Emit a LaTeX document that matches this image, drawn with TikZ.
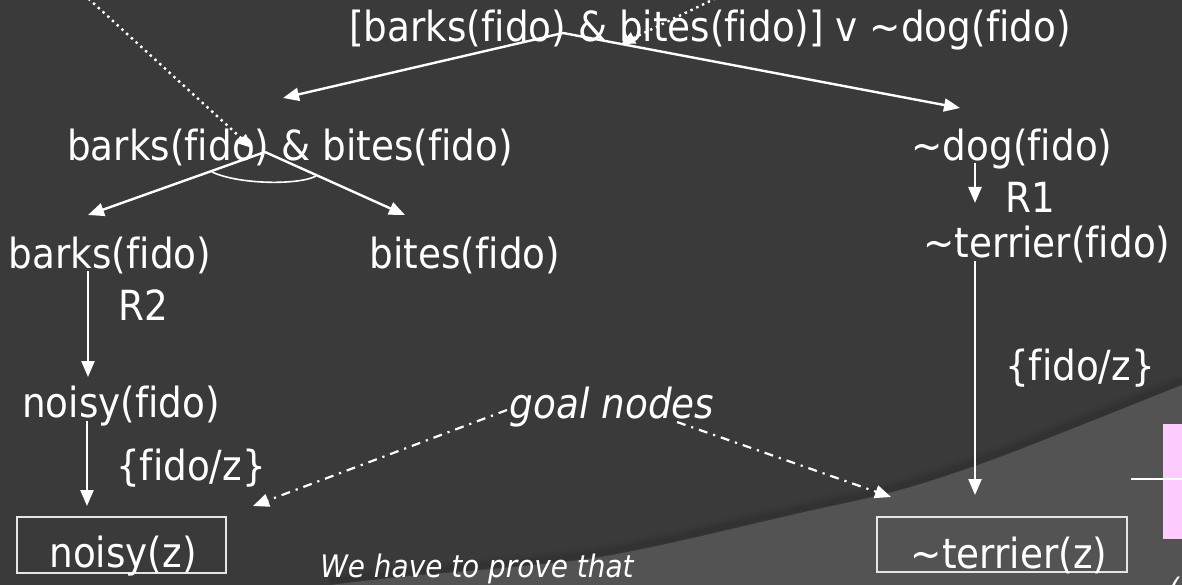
\documentclass[tikz,border=0pt]{standalone}
\usepackage{fontspec}
\setmainfont{DejaVu Sans}[FakeStretch=0.9, Ligatures=NoCommon]
\usetikzlibrary{arrows.meta,calc}
\definecolor{bgdark}{HTML}{3A3A3A}
\definecolor{bglight}{HTML}{535353}
\definecolor{pinkbox}{HTML}{FFCCFF}
\begin{document}
\begin{tikzpicture}[x=1pt,y=-1pt,
  lbl/.style={text=white, font=\fontsize{41.5}{48}\selectfont, inner sep=0pt, anchor=base},
  lblit/.style={lbl, font=\fontsize{41.5}{48}\selectfont\itshape},
  lblsm/.style={lbl, font=\fontsize{31}{36}\selectfont\itshape},
  goalbox/.style={draw=white!90!black, line width=1.4pt, inner sep=0pt},
  conn/.style={draw=white, line width=2.4pt, -{Triangle[length=16pt,width=13pt]}},
  dotconn/.style={draw=white, line width=2.4pt, dash pattern=on 2.4pt off 4pt, -{Triangle[length=14pt,width=12pt]}},
  dashdotconn/.style={draw=white, line width=2.2pt, dash pattern=on 9pt off 6pt on 2.2pt off 6pt, -{Triangle[length=16pt,width=13pt]}}]
\useasboundingbox (0,0) rectangle (1182,585);
\clip (0,0) rectangle (1182,585);
% background
\fill[bgdark] (0,0) rectangle (1182,585);
\foreach \w/\o in {16/0.03, 10/0.04, 5/0.05}
  \draw[black, opacity=\o, line width=\w pt] plot[smooth] coordinates {(330,581) (400,573) (600,553) (800,509) (900,486) (1000,453) (1182,381)};
\fill[bglight] plot[smooth] coordinates {(330,585) (400,577) (600,557) (800,513) (900,490) (1000,457) (1182,385)} -- (1182,585) -- cycle;
% pink box and line at the right edge
\fill[pinkbox] (1163,424) rectangle (1190,539);
\coordinate (pl) at (1131,479);
\coordinate (pr) at (1190,479);
\draw[white, line width=2pt] (pl) -- (pr);
\node[lblsm, anchor=base west] (edge) at (1168,600) {(};
% goal boxes
\node[goalbox, minimum width=209pt, minimum height=56pt] (boxl) at (121.5,545) {};
\node[goalbox, minimum width=250pt, minimum height=55pt] (boxr) at (1002,544.5) {};
% texts
\node[lbl] (top) at (710,42) {[barks(fido) \& bites(fido)] v \textasciitilde dog(fido)};
\node[lbl] (and) at (290,161) {barks(fido) \& bites(fido)};
\node[lbl] (notdog) at (1012,161) {\textasciitilde dog(fido)};
\node[lbl] (barks) at (110,268) {barks(fido)};
\node[lbl] (bites) at (465,268) {bites(fido)};
\node[lbl] (r1) at (1030,213) {R1};
\node[lbl] (notterf) at (1047,257) {\textasciitilde terrier(fido)};
\node[lbl] (r2) at (143,320) {R2};
\node[lbl] (noisyf) at (121,417) {noisy(fido)};
\node[lbl] (subl) at (191,480) {\{fido/z\}};
\node[lbl] (subr) at (1080,380) {\{fido/z\}};
\node[lbl] (noisyz) at (123,567) {noisy(z)};
\node[lbl] (terz) at (1009,568) {\textasciitilde terrier(z)};
\node[lblit] (goal) at (612,418) {goal nodes};
\node[lblsm] (prove) at (477,577) {We have to prove that};
% junctions and arrow ends
\coordinate (j1) at (563,33);
\coordinate (t1l) at (283,98);
\coordinate (t1r) at (960,108);
\coordinate (j2) at (265,152);
\coordinate (t2l) at (88,215);
\coordinate (t2r) at (405,215);
\draw[conn] (j1) -- (t1l);
\draw[conn] (j1) -- (t1r);
\draw[conn] (j2) -- (t2l);
\draw[conn] (j2) -- (t2r);
\coordinate (a1) at (212,172);
\coordinate (a2) at (316,176);
\draw[white, line width=1.6pt] (a1) .. controls (240,185) and (300,185) .. (a2);
% vertical arrows
\coordinate (d1s) at (975,163);
\coordinate (d1e) at (975,203);
\draw[conn] (d1s) -- (d1e);
\coordinate (d2s) at (975,261);
\coordinate (d2e) at (975,495);
\draw[conn] (d2s) -- (d2e);
\coordinate (b1s) at (88,271);
\coordinate (b1e) at (88,377);
\draw[conn] (b1s) -- (b1e);
\coordinate (b2s) at (87,421);
\coordinate (b2e) at (87,506);
\draw[conn] (b2s) -- (b2e);
% dotted arrows from outside
\coordinate (o1) at (79,-10);
\coordinate (o1e) at (252,148);
\draw[dotconn] (o1) -- (o1e);
\coordinate (o2) at (733,-10);
\coordinate (o2e) at (621,44);
\draw[dotconn] (o2) -- (o2e);
% goal pointers
\coordinate (g1s) at (507,410);
\coordinate (g1e) at (253,506);
\draw[dashdotconn] (g1s) -- (g1e);
\coordinate (g2s) at (677,422);
\coordinate (g2e) at (891,497);
\draw[dashdotconn] (g2s) -- (g2e);
\end{tikzpicture}
\end{document}
